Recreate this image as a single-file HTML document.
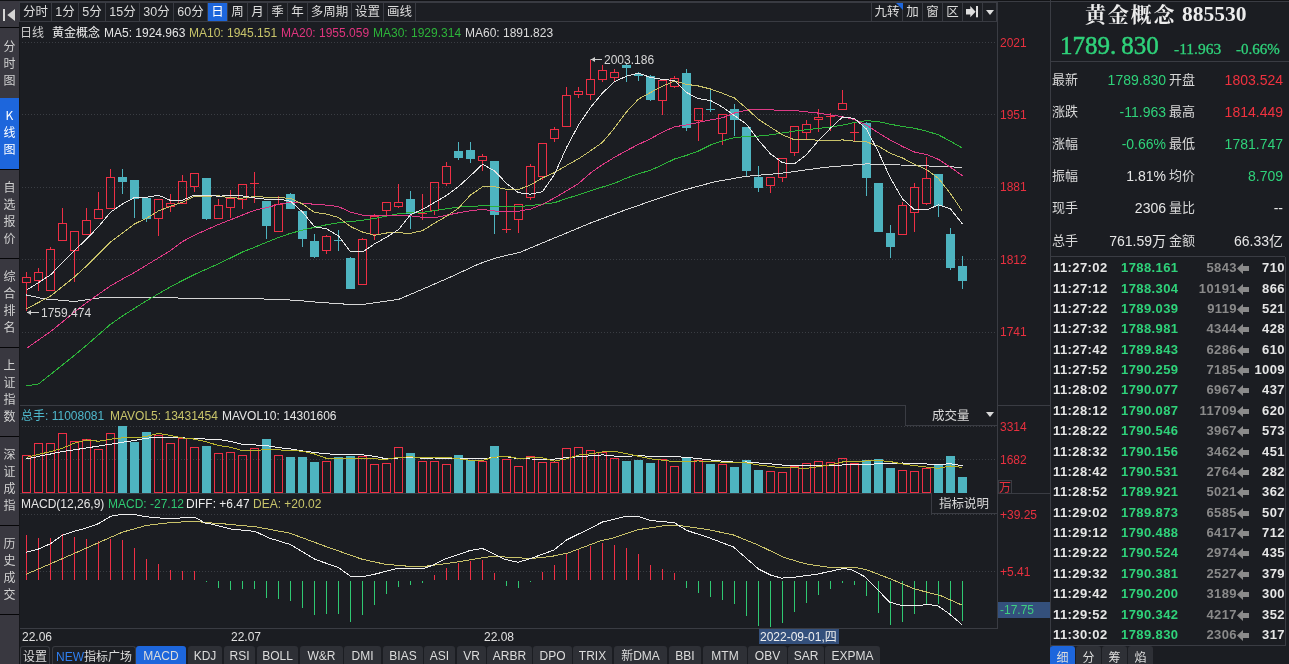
<!DOCTYPE html>
<html><head><meta charset="utf-8">
<style>
*{margin:0;padding:0;box-sizing:border-box}
html,body{width:1289px;height:664px;overflow:hidden;background:#1b1d22}
body{position:relative;font-family:"Liberation Sans","Noto Sans CJK SC",sans-serif;font-size:12px;color:#d8d8d8}
.a{position:absolute;white-space:nowrap}
#side{position:absolute;left:0;top:0;width:19px;height:664px;background:#393840}
.sb{position:absolute;left:0;width:19px;color:#d0d0d0;font-size:12px;line-height:17px;text-align:center;font-family:"Noto Sans CJK SC",sans-serif}
.sep{position:absolute;left:0;width:19px;height:1px;background:#060608}
#tb{position:absolute;left:19px;top:1px;width:979px;height:21px;background:#393b42}
.btn{position:absolute;top:3px;height:18px;background:#1c1e23;color:#dcdcdc;font-size:12.5px;line-height:18px;text-align:center;font-family:"Liberation Sans","Noto Sans CJK SC",sans-serif}
.btn.on{background:#1d66dc;color:#fff}
.hdr{font-size:12px;line-height:14px}
.ax{position:absolute;font-size:12px;line-height:14px;color:#e8303f;font-family:"Liberation Sans",sans-serif}
#rp{position:absolute;left:1050px;top:0;width:239px;height:664px}
.lbl{position:absolute;font-size:13px;line-height:16px;color:#d8d8d8;font-family:"Liberation Sans","Noto Sans CJK SC",sans-serif}
.val{position:absolute;font-size:14px;line-height:16px;text-align:right;font-family:"Liberation Sans","Noto Sans CJK SC",sans-serif}
.tk{position:absolute;left:0;width:239px;height:20px;font-family:"Liberation Sans",sans-serif;font-weight:bold;font-size:13px;line-height:20px;letter-spacing:0.4px}
.tk span{position:absolute}
.g{color:#2fd27a}.r{color:#f0323f}.w{color:#e6e6e6}.gy{color:#8a8a8a}
.tab{position:absolute;top:646px;height:18px;background:#2e3036;color:#dcdcdc;font-size:12px;line-height:21px;text-align:center;border-radius:3px 3px 0 0}
</style></head><body>
<!-- left sidebar -->
<div id="side">
  <div class="a" style="left:0;top:0;width:19px;height:1px;background:#121316"></div>
  <svg class="a" style="left:0;top:0" width="19" height="27"><rect x="3" y="9" width="2" height="12" fill="#d4d4d4"/><path d="M7.3,15 L15,9 L15,21 Z" fill="#d4d4d4"/></svg>
  <div class="sep" style="top:27px;height:1px"></div>
  <div class="sb" style="top:36.8px;color:#d0d0d0">分<br>时<br>图</div>
<div class="a" style="left:0;top:98px;width:19px;height:71px;background:#1d66dc"></div>
<div class="sb" style="top:105.8px;color:#ffffff">K<br>线<br>图</div>
<div class="sb" style="top:178.3px;color:#d0d0d0">自<br>选<br>报<br>价</div>
<div class="sb" style="top:267.3px;color:#d0d0d0">综<br>合<br>排<br>名</div>
<div class="sb" style="top:356.3px;color:#d0d0d0">上<br>证<br>指<br>数</div>
<div class="sb" style="top:445.3px;color:#d0d0d0">深<br>证<br>成<br>指</div>
<div class="sb" style="top:534.3px;color:#d0d0d0">历<br>史<br>成<br>交</div>
<div class="sep" style="top:169px"></div>
<div class="sep" style="top:258px"></div>
<div class="sep" style="top:347px"></div>
<div class="sep" style="top:436px"></div>
<div class="sep" style="top:525px"></div>
<div class="sep" style="top:614px"></div>
</div>
<div class="a" style="left:19px;top:0;width:1px;height:664px;background:#15161a"></div>
<!-- top toolbar -->
<div class="a" style="left:0;top:0;width:1289px;height:1px;background:#121316"></div>
<div id="tb"></div>
<div class="btn" style="left:416px;width:455px"></div>
<div class="btn" style="left:20px;width:31px">分时</div>
<div class="btn" style="left:52px;width:26px">1分</div>
<div class="btn" style="left:79px;width:26px">5分</div>
<div class="btn" style="left:106px;width:33px">15分</div>
<div class="btn" style="left:140px;width:33px">30分</div>
<div class="btn" style="left:174px;width:33px">60分</div>
<div class="btn on" style="left:208px;width:19px">日</div>
<div class="btn" style="left:228px;width:19px">周</div>
<div class="btn" style="left:248px;width:19px">月</div>
<div class="btn" style="left:268px;width:19px">季</div>
<div class="btn" style="left:288px;width:19px">年</div>
<div class="btn" style="left:308px;width:43px">多周期</div>
<div class="btn" style="left:352px;width:31px">设置</div>
<div class="btn" style="left:384px;width:31px">画线</div>
<div class="btn" style="left:872px;width:30px">九转</div>
<div class="btn" style="left:903px;width:19px">加</div>
<div class="btn" style="left:923px;width:19px">窗</div>
<div class="btn" style="left:943px;width:19px">区</div>
<div class="btn" style="left:963px;width:19px"><svg width="20" height="18" style="display:block"><path d="M3,6.1 H7.3 V3 L12.6,8.7 L7.3,14.3 V11.4 H3 Z" fill="#dedede"/><rect x="13" y="3" width="2" height="11.3" fill="#dedede"/></svg></div>
<div class="btn" style="left:983px;width:13px"><svg width="14" height="18" style="display:block"><path d="M3,7 h8 l-4,5 z" fill="#dedede"/></svg></div>
<svg class="a" style="left:896px;top:3px" width="7" height="7"><path d="M0,0 H7 V7 Z" fill="#1d66dc"/></svg>
<!-- chart svg -->
<svg class="a" style="left:0;top:0" width="1289" height="664" viewBox="0 0 1289 664">
<g shape-rendering="crispEdges">
<line x1="997.5" y1="22" x2="997.5" y2="629" stroke="#3a3c43"/>
<line x1="20" y1="405.5" x2="1050" y2="405.5" stroke="#3a3c43"/>
<line x1="20" y1="493.5" x2="1050" y2="493.5" stroke="#3a3c43"/>
<line x1="20" y1="628.5" x2="998" y2="628.5" stroke="#3a3c43"/>
<line x1="1050.5" y1="0" x2="1050.5" y2="664" stroke="#3a3c43"/>
</g>
<line x1="22" y1="42.5" x2="997" y2="42.5" stroke="#3a3d43" stroke-width="1" stroke-dasharray="1 2"/>
<line x1="22" y1="114.5" x2="997" y2="114.5" stroke="#3a3d43" stroke-width="1" stroke-dasharray="1 2"/>
<line x1="22" y1="187.5" x2="997" y2="187.5" stroke="#3a3d43" stroke-width="1" stroke-dasharray="1 2"/>
<line x1="22" y1="259.5" x2="997" y2="259.5" stroke="#3a3d43" stroke-width="1" stroke-dasharray="1 2"/>
<line x1="22" y1="332.5" x2="997" y2="332.5" stroke="#3a3d43" stroke-width="1" stroke-dasharray="1 2"/>
<line x1="22" y1="426.5" x2="997" y2="426.5" stroke="#3a3d43" stroke-width="1" stroke-dasharray="1 2"/>
<line x1="22" y1="459.5" x2="997" y2="459.5" stroke="#3a3d43" stroke-width="1" stroke-dasharray="1 2"/>
<line x1="22" y1="514.5" x2="997" y2="514.5" stroke="#3a3d43" stroke-width="1" stroke-dasharray="1 2"/>
<line x1="22" y1="571.5" x2="997" y2="571.5" stroke="#3a3d43" stroke-width="1" stroke-dasharray="1 2"/>
<line x1="26.5" y1="272" x2="26.5" y2="277" stroke="#ee2f45"/>
<line x1="26.5" y1="282" x2="26.5" y2="311" stroke="#ee2f45"/>
<rect x="22.5" y="277.5" width="8" height="5" fill="none" stroke="#ee2f45"/>
<line x1="38.5" y1="268" x2="38.5" y2="272" stroke="#ee2f45"/>
<line x1="38.5" y1="280" x2="38.5" y2="291" stroke="#ee2f45"/>
<rect x="34.5" y="272.5" width="8" height="8" fill="none" stroke="#ee2f45"/>
<line x1="50.5" y1="247" x2="50.5" y2="249" stroke="#ee2f45"/>
<line x1="50.5" y1="290" x2="50.5" y2="291" stroke="#ee2f45"/>
<rect x="46.5" y="249.5" width="8" height="41" fill="none" stroke="#ee2f45"/>
<line x1="62.5" y1="208" x2="62.5" y2="223" stroke="#ee2f45"/>
<rect x="58.5" y="223.5" width="8" height="17" fill="none" stroke="#ee2f45"/>
<line x1="74.5" y1="250" x2="74.5" y2="282" stroke="#ee2f45"/>
<rect x="70.5" y="231.5" width="8" height="19" fill="none" stroke="#ee2f45"/>
<line x1="86.5" y1="208" x2="86.5" y2="220" stroke="#ee2f45"/>
<rect x="82.5" y="220.5" width="8" height="14" fill="none" stroke="#ee2f45"/>
<line x1="98.5" y1="192" x2="98.5" y2="209" stroke="#ee2f45"/>
<rect x="94.5" y="209.5" width="8" height="9" fill="none" stroke="#ee2f45"/>
<line x1="110.5" y1="169" x2="110.5" y2="177" stroke="#ee2f45"/>
<rect x="106.5" y="177.5" width="8" height="31" fill="none" stroke="#ee2f45"/>
<line x1="122.5" y1="169" x2="122.5" y2="194" stroke="#4eb4c0"/>
<rect x="118" y="177" width="9" height="5" fill="#4eb4c0"/>
<line x1="134.5" y1="180" x2="134.5" y2="218" stroke="#4eb4c0"/>
<rect x="130" y="180" width="9" height="19" fill="#4eb4c0"/>
<line x1="146.5" y1="198" x2="146.5" y2="222" stroke="#4eb4c0"/>
<rect x="142" y="198" width="9" height="21" fill="#4eb4c0"/>
<line x1="158.5" y1="218" x2="158.5" y2="236" stroke="#ee2f45"/>
<rect x="154.5" y="199.5" width="8" height="19" fill="none" stroke="#ee2f45"/>
<line x1="170.5" y1="194" x2="170.5" y2="203" stroke="#ee2f45"/>
<line x1="170.5" y1="206" x2="170.5" y2="212" stroke="#ee2f45"/>
<rect x="166.5" y="203.5" width="8" height="3" fill="none" stroke="#ee2f45"/>
<line x1="182.5" y1="175" x2="182.5" y2="181" stroke="#ee2f45"/>
<rect x="178.5" y="181.5" width="8" height="22" fill="none" stroke="#ee2f45"/>
<line x1="194.5" y1="186" x2="194.5" y2="192" stroke="#ee2f45"/>
<rect x="190.5" y="173.5" width="8" height="13" fill="none" stroke="#ee2f45"/>
<line x1="206.5" y1="178" x2="206.5" y2="220" stroke="#4eb4c0"/>
<rect x="202" y="178" width="9" height="41" fill="#4eb4c0"/>
<line x1="218.5" y1="199" x2="218.5" y2="205" stroke="#ee2f45"/>
<rect x="214.5" y="205.5" width="8" height="13" fill="none" stroke="#ee2f45"/>
<line x1="230.5" y1="190" x2="230.5" y2="198" stroke="#ee2f45"/>
<line x1="230.5" y1="207" x2="230.5" y2="218" stroke="#ee2f45"/>
<rect x="226.5" y="198.5" width="8" height="9" fill="none" stroke="#ee2f45"/>
<line x1="242.5" y1="199" x2="242.5" y2="209" stroke="#ee2f45"/>
<rect x="238.5" y="184.5" width="8" height="15" fill="none" stroke="#ee2f45"/>
<line x1="254.5" y1="172" x2="254.5" y2="203" stroke="#ee2f45"/>
<rect x="250" y="183" width="9" height="1" fill="#ee2f45"/>
<line x1="266.5" y1="201" x2="266.5" y2="239" stroke="#4eb4c0"/>
<rect x="262" y="201" width="9" height="25" fill="#4eb4c0"/>
<line x1="278.5" y1="196" x2="278.5" y2="204" stroke="#ee2f45"/>
<line x1="278.5" y1="231" x2="278.5" y2="232" stroke="#ee2f45"/>
<rect x="274.5" y="204.5" width="8" height="27" fill="none" stroke="#ee2f45"/>
<line x1="290.5" y1="193" x2="290.5" y2="209" stroke="#4eb4c0"/>
<rect x="286" y="194" width="9" height="15" fill="#4eb4c0"/>
<line x1="302.5" y1="211" x2="302.5" y2="247" stroke="#4eb4c0"/>
<rect x="298" y="211" width="9" height="28" fill="#4eb4c0"/>
<line x1="314.5" y1="234" x2="314.5" y2="258" stroke="#4eb4c0"/>
<rect x="310" y="241" width="9" height="16" fill="#4eb4c0"/>
<line x1="326.5" y1="235" x2="326.5" y2="236" stroke="#ee2f45"/>
<line x1="326.5" y1="250" x2="326.5" y2="254" stroke="#ee2f45"/>
<rect x="322.5" y="236.5" width="8" height="14" fill="none" stroke="#ee2f45"/>
<line x1="338.5" y1="230" x2="338.5" y2="251" stroke="#4eb4c0"/>
<rect x="334" y="240" width="9" height="1" fill="#4eb4c0"/>
<line x1="350.5" y1="257" x2="350.5" y2="289" stroke="#4eb4c0"/>
<rect x="346" y="258" width="9" height="31" fill="#4eb4c0"/>
<line x1="362.5" y1="238" x2="362.5" y2="239" stroke="#ee2f45"/>
<rect x="358.5" y="239.5" width="8" height="45" fill="none" stroke="#ee2f45"/>
<line x1="374.5" y1="214" x2="374.5" y2="216" stroke="#ee2f45"/>
<line x1="374.5" y1="234" x2="374.5" y2="240" stroke="#ee2f45"/>
<rect x="370.5" y="216.5" width="8" height="18" fill="none" stroke="#ee2f45"/>
<line x1="386.5" y1="210" x2="386.5" y2="215" stroke="#ee2f45"/>
<rect x="382.5" y="202.5" width="8" height="8" fill="none" stroke="#ee2f45"/>
<line x1="398.5" y1="184" x2="398.5" y2="202" stroke="#ee2f45"/>
<line x1="398.5" y1="206" x2="398.5" y2="208" stroke="#ee2f45"/>
<rect x="394.5" y="202.5" width="8" height="4" fill="none" stroke="#ee2f45"/>
<line x1="410.5" y1="191" x2="410.5" y2="229" stroke="#4eb4c0"/>
<rect x="406" y="199" width="9" height="15" fill="#4eb4c0"/>
<line x1="422.5" y1="194" x2="422.5" y2="220" stroke="#ee2f45"/>
<rect x="418" y="213" width="9" height="1" fill="#ee2f45"/>
<line x1="434.5" y1="210" x2="434.5" y2="215" stroke="#ee2f45"/>
<rect x="430.5" y="182.5" width="8" height="28" fill="none" stroke="#ee2f45"/>
<line x1="446.5" y1="162" x2="446.5" y2="166" stroke="#ee2f45"/>
<line x1="446.5" y1="183" x2="446.5" y2="186" stroke="#ee2f45"/>
<rect x="442.5" y="166.5" width="8" height="17" fill="none" stroke="#ee2f45"/>
<line x1="458.5" y1="142" x2="458.5" y2="160" stroke="#4eb4c0"/>
<rect x="454" y="151" width="9" height="7" fill="#4eb4c0"/>
<line x1="470.5" y1="142" x2="470.5" y2="163" stroke="#4eb4c0"/>
<rect x="466" y="150" width="9" height="9" fill="#4eb4c0"/>
<line x1="482.5" y1="154" x2="482.5" y2="156" stroke="#ee2f45"/>
<line x1="482.5" y1="160" x2="482.5" y2="171" stroke="#ee2f45"/>
<rect x="478.5" y="156.5" width="8" height="4" fill="none" stroke="#ee2f45"/>
<line x1="494.5" y1="161" x2="494.5" y2="234" stroke="#4eb4c0"/>
<rect x="490" y="161" width="9" height="54" fill="#4eb4c0"/>
<line x1="506.5" y1="191" x2="506.5" y2="233" stroke="#ee2f45"/>
<rect x="502" y="229" width="9" height="1" fill="#ee2f45"/>
<line x1="518.5" y1="219" x2="518.5" y2="233" stroke="#ee2f45"/>
<rect x="514.5" y="204.5" width="8" height="15" fill="none" stroke="#ee2f45"/>
<line x1="530.5" y1="164" x2="530.5" y2="166" stroke="#ee2f45"/>
<line x1="530.5" y1="197" x2="530.5" y2="200" stroke="#ee2f45"/>
<rect x="526.5" y="166.5" width="8" height="31" fill="none" stroke="#ee2f45"/>
<line x1="542.5" y1="176" x2="542.5" y2="180" stroke="#ee2f45"/>
<rect x="538.5" y="143.5" width="8" height="33" fill="none" stroke="#ee2f45"/>
<line x1="554.5" y1="127" x2="554.5" y2="129" stroke="#ee2f45"/>
<line x1="554.5" y1="138" x2="554.5" y2="142" stroke="#ee2f45"/>
<rect x="550.5" y="129.5" width="8" height="9" fill="none" stroke="#ee2f45"/>
<line x1="566.5" y1="87" x2="566.5" y2="95" stroke="#ee2f45"/>
<rect x="562.5" y="95.5" width="8" height="31" fill="none" stroke="#ee2f45"/>
<line x1="578.5" y1="87" x2="578.5" y2="91" stroke="#ee2f45"/>
<line x1="578.5" y1="94" x2="578.5" y2="98" stroke="#ee2f45"/>
<rect x="574.5" y="91.5" width="8" height="3" fill="none" stroke="#ee2f45"/>
<line x1="590.5" y1="60" x2="590.5" y2="79" stroke="#ee2f45"/>
<line x1="590.5" y1="94" x2="590.5" y2="100" stroke="#ee2f45"/>
<rect x="586.5" y="79.5" width="8" height="15" fill="none" stroke="#ee2f45"/>
<line x1="602.5" y1="65" x2="602.5" y2="70" stroke="#ee2f45"/>
<line x1="602.5" y1="79" x2="602.5" y2="82" stroke="#ee2f45"/>
<rect x="598.5" y="70.5" width="8" height="9" fill="none" stroke="#ee2f45"/>
<line x1="614.5" y1="69" x2="614.5" y2="72" stroke="#ee2f45"/>
<line x1="614.5" y1="77" x2="614.5" y2="82" stroke="#ee2f45"/>
<rect x="610.5" y="72.5" width="8" height="5" fill="none" stroke="#ee2f45"/>
<line x1="626.5" y1="63" x2="626.5" y2="82" stroke="#4eb4c0"/>
<rect x="622" y="65" width="9" height="3" fill="#4eb4c0"/>
<line x1="638.5" y1="72" x2="638.5" y2="81" stroke="#4eb4c0"/>
<rect x="634" y="74" width="9" height="2" fill="#4eb4c0"/>
<line x1="650.5" y1="75" x2="650.5" y2="101" stroke="#4eb4c0"/>
<rect x="646" y="76" width="9" height="24" fill="#4eb4c0"/>
<line x1="662.5" y1="100" x2="662.5" y2="115" stroke="#ee2f45"/>
<rect x="658.5" y="80.5" width="8" height="20" fill="none" stroke="#ee2f45"/>
<line x1="674.5" y1="76" x2="674.5" y2="78" stroke="#ee2f45"/>
<line x1="674.5" y1="86" x2="674.5" y2="88" stroke="#ee2f45"/>
<rect x="670.5" y="78.5" width="8" height="8" fill="none" stroke="#ee2f45"/>
<line x1="686.5" y1="69" x2="686.5" y2="131" stroke="#4eb4c0"/>
<rect x="682" y="73" width="9" height="55" fill="#4eb4c0"/>
<line x1="698.5" y1="120" x2="698.5" y2="141" stroke="#ee2f45"/>
<rect x="694.5" y="108.5" width="8" height="12" fill="none" stroke="#ee2f45"/>
<line x1="710.5" y1="90" x2="710.5" y2="112" stroke="#4eb4c0"/>
<rect x="706" y="109" width="9" height="1" fill="#4eb4c0"/>
<line x1="722.5" y1="133" x2="722.5" y2="145" stroke="#ee2f45"/>
<rect x="718.5" y="114.5" width="8" height="19" fill="none" stroke="#ee2f45"/>
<line x1="734.5" y1="104" x2="734.5" y2="136" stroke="#4eb4c0"/>
<rect x="730" y="109" width="9" height="11" fill="#4eb4c0"/>
<line x1="746.5" y1="127" x2="746.5" y2="176" stroke="#4eb4c0"/>
<rect x="742" y="127" width="9" height="44" fill="#4eb4c0"/>
<line x1="758.5" y1="166" x2="758.5" y2="192" stroke="#4eb4c0"/>
<rect x="754" y="177" width="9" height="11" fill="#4eb4c0"/>
<line x1="770.5" y1="185" x2="770.5" y2="193" stroke="#ee2f45"/>
<rect x="766.5" y="177.5" width="8" height="8" fill="none" stroke="#ee2f45"/>
<line x1="782.5" y1="177" x2="782.5" y2="182" stroke="#ee2f45"/>
<rect x="778.5" y="158.5" width="8" height="19" fill="none" stroke="#ee2f45"/>
<line x1="794.5" y1="152" x2="794.5" y2="156" stroke="#ee2f45"/>
<rect x="790.5" y="126.5" width="8" height="26" fill="none" stroke="#ee2f45"/>
<line x1="806.5" y1="120" x2="806.5" y2="124" stroke="#ee2f45"/>
<line x1="806.5" y1="132" x2="806.5" y2="139" stroke="#ee2f45"/>
<rect x="802.5" y="124.5" width="8" height="8" fill="none" stroke="#ee2f45"/>
<line x1="818.5" y1="109" x2="818.5" y2="117" stroke="#ee2f45"/>
<line x1="818.5" y1="119" x2="818.5" y2="132" stroke="#ee2f45"/>
<rect x="814.5" y="117.5" width="8" height="2" fill="none" stroke="#ee2f45"/>
<line x1="830.5" y1="113" x2="830.5" y2="131" stroke="#ee2f45"/>
<rect x="826" y="116" width="9" height="1" fill="#ee2f45"/>
<line x1="842.5" y1="90" x2="842.5" y2="103" stroke="#ee2f45"/>
<rect x="838.5" y="103.5" width="8" height="6" fill="none" stroke="#ee2f45"/>
<line x1="854.5" y1="123" x2="854.5" y2="141" stroke="#ee2f45"/>
<rect x="850" y="132" width="9" height="1" fill="#ee2f45"/>
<line x1="866.5" y1="122" x2="866.5" y2="196" stroke="#4eb4c0"/>
<rect x="862" y="123" width="9" height="55" fill="#4eb4c0"/>
<line x1="878.5" y1="183" x2="878.5" y2="232" stroke="#4eb4c0"/>
<rect x="874" y="183" width="9" height="49" fill="#4eb4c0"/>
<line x1="890.5" y1="225" x2="890.5" y2="258" stroke="#4eb4c0"/>
<rect x="886" y="233" width="9" height="14" fill="#4eb4c0"/>
<line x1="902.5" y1="202" x2="902.5" y2="205" stroke="#ee2f45"/>
<line x1="902.5" y1="234" x2="902.5" y2="235" stroke="#ee2f45"/>
<rect x="898.5" y="205.5" width="8" height="29" fill="none" stroke="#ee2f45"/>
<line x1="914.5" y1="183" x2="914.5" y2="187" stroke="#ee2f45"/>
<line x1="914.5" y1="212" x2="914.5" y2="232" stroke="#ee2f45"/>
<rect x="910.5" y="187.5" width="8" height="25" fill="none" stroke="#ee2f45"/>
<line x1="926.5" y1="157" x2="926.5" y2="178" stroke="#ee2f45"/>
<line x1="926.5" y1="203" x2="926.5" y2="205" stroke="#ee2f45"/>
<rect x="922.5" y="178.5" width="8" height="25" fill="none" stroke="#ee2f45"/>
<line x1="938.5" y1="174" x2="938.5" y2="217" stroke="#4eb4c0"/>
<rect x="934" y="174" width="9" height="32" fill="#4eb4c0"/>
<line x1="950.5" y1="228" x2="950.5" y2="270" stroke="#4eb4c0"/>
<rect x="946" y="234" width="9" height="34" fill="#4eb4c0"/>
<line x1="962.5" y1="256" x2="962.5" y2="289" stroke="#4eb4c0"/>
<rect x="958" y="266" width="9" height="15" fill="#4eb4c0"/>
<polyline points="26.0,294.9 44.1,298.8 74.2,301.5 104.3,297.3 164.6,297.9 250.0,298.6 271.1,299.2 296.4,300.3 319.6,302.4 344.9,304.1 361.8,304.5 370.0,303.5 380.8,301.9 398.9,299.3 424.2,288.5 451.3,276.7 478.4,264.1 496.5,257.8 520.0,252.3 541.6,243.3 560.0,235.7 591.0,222.8 622.0,211.2 653.1,200.3 684.1,190.0 715.2,181.7 746.2,176.3 780.3,173.4 825.5,167.3 866.2,163.9 915.8,165.5 962.0,167.3" fill="none" stroke="#d6d6d6" stroke-width="1" shape-rendering="crispEdges"/>
<polyline points="26.5,385.8 38.5,384.0 50.5,374.5 62.5,364.9 74.5,355.3 86.5,345.3 98.5,334.8 110.5,324.3 122.5,316.0 134.5,308.3 146.5,300.7 158.5,293.8 170.5,286.8 182.5,280.5 194.5,274.5 206.5,269.1 218.5,263.8 230.5,258.0 242.5,252.0 254.5,247.3 266.5,242.3 278.5,237.5 290.5,233.3 302.5,230.2 314.5,227.3 326.5,224.8 338.5,222.8 350.5,221.6 362.5,220.2 374.5,218.6 386.5,216.1 398.5,213.8 410.5,212.6 422.5,212.3 434.5,210.6 446.5,208.8 458.5,207.1 470.5,206.5 482.5,205.7 494.5,206.2 506.5,206.5 518.5,206.7 530.5,205.5 542.5,204.2 554.5,202.7 566.5,198.6 578.5,194.8 590.5,190.8 602.5,187.0 614.5,183.3 626.5,178.1 638.5,173.8 650.5,170.2 662.5,164.9 674.5,159.0 686.5,155.4 698.5,151.0 710.5,145.0 722.5,140.8 734.5,137.6 746.5,136.5 758.5,136.1 770.5,134.8 782.5,133.0 794.5,131.1 806.5,129.7 818.5,128.4 830.5,126.9 842.5,125.2 854.5,122.4 866.5,120.7 878.5,121.6 890.5,124.3 902.5,126.4 914.5,128.3 926.5,131.1 938.5,134.9 950.5,141.2 962.5,148.2" fill="none" stroke="#2db43a" stroke-width="1" shape-rendering="crispEdges"/>
<polyline points="26.5,348.4 38.5,340.0 50.5,331.6 62.5,321.9 74.5,312.0 86.5,302.7 98.5,294.3 110.5,285.9 122.5,279.0 134.5,272.5 146.5,265.1 158.5,257.9 170.5,250.5 182.5,241.6 194.5,235.2 206.5,229.8 218.5,224.5 230.5,219.8 242.5,215.0 254.5,210.3 266.5,207.7 278.5,204.3 290.5,202.3 302.5,203.1 314.5,204.3 326.5,205.1 338.5,206.6 350.5,212.2 362.5,215.1 374.5,215.9 386.5,215.1 398.5,215.2 410.5,215.8 422.5,217.3 434.5,217.8 446.5,215.2 458.5,212.8 470.5,210.8 482.5,209.4 494.5,211.0 506.5,211.2 518.5,211.2 530.5,209.1 542.5,204.3 554.5,197.9 566.5,190.9 578.5,183.5 590.5,173.0 602.5,164.6 614.5,157.3 626.5,150.6 638.5,144.4 650.5,138.7 662.5,132.1 674.5,126.8 686.5,124.9 698.5,122.4 710.5,119.9 722.5,117.8 734.5,113.0 746.5,110.1 758.5,109.3 770.5,109.8 782.5,110.6 794.5,110.4 806.5,111.9 818.5,113.1 830.5,115.0 842.5,116.6 854.5,119.6 866.5,125.1 878.5,132.9 890.5,140.2 902.5,146.5 914.5,152.0 926.5,154.5 938.5,159.4 950.5,167.3 962.5,175.7" fill="none" stroke="#de3a86" stroke-width="1" shape-rendering="crispEdges"/>
<polyline points="26.5,308.7 38.5,302.5 50.5,296.1 62.5,286.5 74.5,276.9 86.5,266.0 98.5,254.1 110.5,242.1 122.5,233.0 134.5,224.0 146.5,218.2 158.5,210.9 170.5,206.3 182.5,202.1 194.5,196.3 206.5,196.2 218.5,195.8 230.5,197.9 242.5,198.1 254.5,196.5 266.5,197.2 278.5,197.7 290.5,198.3 302.5,204.0 314.5,212.4 326.5,214.1 338.5,217.5 350.5,226.6 362.5,232.0 374.5,235.3 386.5,233.0 398.5,232.8 410.5,233.3 422.5,230.7 434.5,223.2 446.5,216.3 458.5,208.1 470.5,195.1 482.5,186.8 494.5,186.7 506.5,189.4 518.5,189.6 530.5,184.9 542.5,177.9 554.5,172.6 566.5,165.5 578.5,158.8 590.5,150.8 602.5,142.3 614.5,128.0 626.5,111.9 638.5,99.1 650.5,92.5 662.5,86.2 674.5,81.1 686.5,84.3 698.5,86.0 710.5,89.0 722.5,93.3 734.5,98.0 746.5,108.3 758.5,119.4 770.5,127.2 782.5,134.9 794.5,139.8 806.5,139.4 818.5,140.3 830.5,141.0 842.5,139.9 854.5,141.2 866.5,141.9 878.5,146.3 890.5,153.3 902.5,158.0 914.5,164.2 926.5,169.5 938.5,178.5 950.5,193.6 962.5,211.5" fill="none" stroke="#c9c26a" stroke-width="1" shape-rendering="crispEdges"/>
<polyline points="26.5,290.1 38.5,282.6 50.5,274.9 62.5,262.6 74.5,250.5 86.5,239.1 98.5,226.6 110.5,212.2 122.5,204.0 134.5,197.5 146.5,197.3 158.5,195.2 170.5,200.4 182.5,200.2 194.5,195.1 206.5,195.1 218.5,196.3 230.5,195.4 242.5,196.0 254.5,198.0 266.5,199.3 278.5,199.1 290.5,201.2 302.5,212.0 314.5,226.7 326.5,228.8 338.5,235.9 350.5,251.9 362.5,252.0 374.5,243.9 386.5,237.2 398.5,229.6 410.5,214.6 422.5,209.4 434.5,202.5 446.5,195.4 458.5,186.6 470.5,175.7 482.5,164.3 494.5,170.8 506.5,183.4 518.5,192.7 530.5,194.2 542.5,191.6 554.5,174.4 566.5,147.6 578.5,125.0 590.5,107.5 602.5,93.0 614.5,81.7 626.5,76.2 638.5,73.2 650.5,77.4 662.5,79.5 674.5,80.5 686.5,92.5 698.5,98.7 710.5,100.5 722.5,107.1 734.5,115.6 746.5,124.2 758.5,140.2 770.5,153.9 782.5,162.8 794.5,163.9 806.5,154.6 818.5,140.5 830.5,128.2 842.5,117.0 854.5,118.4 866.5,129.1 878.5,152.1 890.5,178.3 902.5,198.9 914.5,209.9 926.5,210.0 938.5,204.8 950.5,208.9 962.5,224.1" fill="none" stroke="#e6e6e6" stroke-width="1" shape-rendering="crispEdges"/>
<line x1="590.5" y1="59.5" x2="602" y2="59.5" stroke="#cfcfcf"/>
<path d="M591,59.5 L595,57 L595,62 Z" fill="#cfcfcf"/>
<line x1="27" y1="312.5" x2="39" y2="312.5" stroke="#cfcfcf"/>
<path d="M27,312.5 L31,310 L31,315 Z" fill="#cfcfcf"/>
<rect x="22.5" y="455.5" width="8" height="37" fill="none" stroke="#ee2f45"/>
<rect x="34.5" y="443.5" width="8" height="49" fill="none" stroke="#ee2f45"/>
<rect x="46.5" y="443.5" width="8" height="49" fill="none" stroke="#ee2f45"/>
<rect x="58.5" y="433.5" width="8" height="59" fill="none" stroke="#ee2f45"/>
<rect x="70.5" y="441.5" width="8" height="51" fill="none" stroke="#ee2f45"/>
<rect x="82.5" y="439.5" width="8" height="53" fill="none" stroke="#ee2f45"/>
<rect x="94.5" y="449.5" width="8" height="43" fill="none" stroke="#ee2f45"/>
<rect x="106.5" y="433.5" width="8" height="59" fill="none" stroke="#ee2f45"/>
<rect x="118" y="426" width="9" height="67" fill="#4eb4c0"/>
<rect x="130" y="442" width="9" height="51" fill="#4eb4c0"/>
<rect x="142" y="432" width="9" height="61" fill="#4eb4c0"/>
<rect x="154.5" y="435.5" width="8" height="57" fill="none" stroke="#ee2f45"/>
<rect x="166.5" y="443.5" width="8" height="49" fill="none" stroke="#ee2f45"/>
<rect x="178.5" y="438.5" width="8" height="54" fill="none" stroke="#ee2f45"/>
<rect x="190.5" y="447.5" width="8" height="45" fill="none" stroke="#ee2f45"/>
<rect x="202" y="446" width="9" height="47" fill="#4eb4c0"/>
<rect x="214.5" y="453.5" width="8" height="39" fill="none" stroke="#ee2f45"/>
<rect x="226.5" y="452.5" width="8" height="40" fill="none" stroke="#ee2f45"/>
<rect x="238.5" y="455.5" width="8" height="37" fill="none" stroke="#ee2f45"/>
<rect x="250.5" y="448.5" width="8" height="44" fill="none" stroke="#ee2f45"/>
<rect x="262" y="439" width="9" height="54" fill="#4eb4c0"/>
<rect x="274.5" y="455.5" width="8" height="37" fill="none" stroke="#ee2f45"/>
<rect x="286" y="457" width="9" height="36" fill="#4eb4c0"/>
<rect x="298" y="457" width="9" height="36" fill="#4eb4c0"/>
<rect x="310" y="462" width="9" height="31" fill="#4eb4c0"/>
<rect x="322.5" y="461.5" width="8" height="31" fill="none" stroke="#ee2f45"/>
<rect x="334" y="457" width="9" height="36" fill="#4eb4c0"/>
<rect x="346" y="456" width="9" height="37" fill="#4eb4c0"/>
<rect x="358.5" y="456.5" width="8" height="36" fill="none" stroke="#ee2f45"/>
<rect x="370.5" y="464.5" width="8" height="28" fill="none" stroke="#ee2f45"/>
<rect x="382.5" y="463.5" width="8" height="29" fill="none" stroke="#ee2f45"/>
<rect x="394.5" y="447.5" width="8" height="45" fill="none" stroke="#ee2f45"/>
<rect x="406" y="453" width="9" height="40" fill="#4eb4c0"/>
<rect x="418.5" y="461.5" width="8" height="31" fill="none" stroke="#ee2f45"/>
<rect x="430.5" y="461.5" width="8" height="31" fill="none" stroke="#ee2f45"/>
<rect x="442.5" y="464.5" width="8" height="28" fill="none" stroke="#ee2f45"/>
<rect x="454" y="455" width="9" height="38" fill="#4eb4c0"/>
<rect x="466" y="460" width="9" height="33" fill="#4eb4c0"/>
<rect x="478.5" y="461.5" width="8" height="31" fill="none" stroke="#ee2f45"/>
<rect x="490" y="446" width="9" height="47" fill="#4eb4c0"/>
<rect x="502.5" y="459.5" width="8" height="33" fill="none" stroke="#ee2f45"/>
<rect x="514.5" y="466.5" width="8" height="26" fill="none" stroke="#ee2f45"/>
<rect x="526.5" y="456.5" width="8" height="36" fill="none" stroke="#ee2f45"/>
<rect x="538.5" y="462.5" width="8" height="30" fill="none" stroke="#ee2f45"/>
<rect x="550.5" y="462.5" width="8" height="30" fill="none" stroke="#ee2f45"/>
<rect x="562.5" y="448.5" width="8" height="44" fill="none" stroke="#ee2f45"/>
<rect x="574.5" y="447.5" width="8" height="45" fill="none" stroke="#ee2f45"/>
<rect x="586.5" y="450.5" width="8" height="42" fill="none" stroke="#ee2f45"/>
<rect x="598.5" y="452.5" width="8" height="40" fill="none" stroke="#ee2f45"/>
<rect x="610.5" y="458.5" width="8" height="34" fill="none" stroke="#ee2f45"/>
<rect x="622" y="461" width="9" height="32" fill="#4eb4c0"/>
<rect x="634" y="460" width="9" height="33" fill="#4eb4c0"/>
<rect x="646" y="463" width="9" height="30" fill="#4eb4c0"/>
<rect x="658.5" y="459.5" width="8" height="33" fill="none" stroke="#ee2f45"/>
<rect x="670.5" y="466.5" width="8" height="26" fill="none" stroke="#ee2f45"/>
<rect x="682" y="457" width="9" height="36" fill="#4eb4c0"/>
<rect x="694.5" y="460.5" width="8" height="32" fill="none" stroke="#ee2f45"/>
<rect x="706" y="464" width="9" height="29" fill="#4eb4c0"/>
<rect x="718.5" y="464.5" width="8" height="28" fill="none" stroke="#ee2f45"/>
<rect x="730" y="467" width="9" height="26" fill="#4eb4c0"/>
<rect x="742" y="460" width="9" height="33" fill="#4eb4c0"/>
<rect x="754" y="470" width="9" height="23" fill="#4eb4c0"/>
<rect x="766.5" y="471.5" width="8" height="21" fill="none" stroke="#ee2f45"/>
<rect x="778.5" y="472.5" width="8" height="20" fill="none" stroke="#ee2f45"/>
<rect x="790.5" y="466.5" width="8" height="26" fill="none" stroke="#ee2f45"/>
<rect x="802.5" y="463.5" width="8" height="29" fill="none" stroke="#ee2f45"/>
<rect x="814.5" y="461.5" width="8" height="31" fill="none" stroke="#ee2f45"/>
<rect x="826.5" y="462.5" width="8" height="30" fill="none" stroke="#ee2f45"/>
<rect x="838.5" y="458.5" width="8" height="34" fill="none" stroke="#ee2f45"/>
<rect x="850.5" y="463.5" width="8" height="29" fill="none" stroke="#ee2f45"/>
<rect x="862" y="460" width="9" height="33" fill="#4eb4c0"/>
<rect x="874" y="459" width="9" height="34" fill="#4eb4c0"/>
<rect x="886" y="468" width="9" height="25" fill="#4eb4c0"/>
<rect x="898.5" y="470.5" width="8" height="22" fill="none" stroke="#ee2f45"/>
<rect x="910.5" y="471.5" width="8" height="21" fill="none" stroke="#ee2f45"/>
<rect x="922.5" y="468.5" width="8" height="24" fill="none" stroke="#ee2f45"/>
<rect x="934" y="465" width="9" height="28" fill="#4eb4c0"/>
<rect x="946" y="456" width="9" height="37" fill="#4eb4c0"/>
<rect x="958" y="477" width="9" height="16" fill="#4eb4c0"/>
<polyline points="26.5,458.9 38.5,456.4 50.5,454.0 62.5,451.6 74.5,449.8 86.5,447.9 98.5,446.1 110.5,444.2 122.5,442.3 134.5,440.5 146.5,438.2 158.5,437.4 170.5,437.4 182.5,437.9 194.5,438.5 206.5,439.1 218.5,439.5 230.5,441.4 242.5,444.3 254.5,444.9 266.5,445.6 278.5,447.6 290.5,449.0 302.5,450.9 314.5,452.4 326.5,453.9 338.5,454.3 350.5,454.6 362.5,454.8 374.5,456.4 386.5,458.8 398.5,458.0 410.5,457.6 422.5,458.1 434.5,458.0 446.5,458.3 458.5,458.1 470.5,458.5 482.5,459.0 494.5,457.1 506.5,456.8 518.5,458.7 530.5,459.0 542.5,459.1 554.5,459.1 566.5,457.6 578.5,456.8 590.5,455.8 602.5,454.9 614.5,456.1 626.5,456.3 638.5,455.6 650.5,456.3 662.5,456.1 674.5,456.5 686.5,457.4 698.5,458.6 710.5,460.0 722.5,461.2 734.5,462.1 746.5,462.0 758.5,463.0 770.5,463.8 782.5,465.1 794.5,465.1 806.5,465.7 818.5,465.8 830.5,465.6 842.5,465.0 854.5,464.7 866.5,464.7 878.5,463.6 890.5,463.2 902.5,463.0 914.5,463.6 926.5,464.0 938.5,464.4 950.5,463.8 962.5,465.7" fill="none" stroke="#f0f0f0" stroke-width="1" shape-rendering="crispEdges"/>
<polyline points="26.5,457.3 38.5,454.4 50.5,451.6 62.5,448.2 74.5,443.1 86.5,440.0 98.5,441.2 110.5,439.2 122.5,437.8 134.5,437.9 146.5,436.4 158.5,433.5 170.5,435.5 182.5,438.0 194.5,439.1 206.5,441.9 218.5,445.5 230.5,447.3 242.5,450.6 254.5,450.7 266.5,449.4 278.5,449.8 290.5,450.8 302.5,451.1 314.5,454.0 326.5,458.4 338.5,458.7 350.5,458.5 362.5,458.4 374.5,458.9 386.5,459.3 398.5,457.3 410.5,456.8 422.5,457.7 434.5,457.1 446.5,457.3 458.5,458.8 470.5,460.3 482.5,460.3 494.5,457.2 506.5,456.2 518.5,458.5 530.5,457.7 542.5,457.9 554.5,461.1 566.5,458.9 578.5,455.1 590.5,453.9 602.5,451.9 614.5,451.2 626.5,453.7 638.5,456.2 650.5,458.8 662.5,460.2 674.5,461.8 686.5,461.1 698.5,461.0 710.5,461.2 722.5,462.2 734.5,462.4 746.5,462.9 758.5,465.0 770.5,466.5 782.5,468.0 794.5,467.8 806.5,468.4 818.5,466.6 830.5,464.8 842.5,462.0 854.5,461.6 866.5,460.9 878.5,460.5 890.5,461.6 902.5,464.0 914.5,465.6 926.5,467.1 938.5,468.4 950.5,466.0 962.5,467.4" fill="none" stroke="#b9b52e" stroke-width="1" shape-rendering="crispEdges"/>
<line x1="26.5" y1="535" x2="26.5" y2="580" stroke="#ee2f45"/>
<line x1="38.5" y1="538" x2="38.5" y2="580" stroke="#ee2f45"/>
<line x1="50.5" y1="538" x2="50.5" y2="580" stroke="#ee2f45"/>
<line x1="62.5" y1="534" x2="62.5" y2="580" stroke="#ee2f45"/>
<line x1="74.5" y1="537" x2="74.5" y2="580" stroke="#ee2f45"/>
<line x1="86.5" y1="539" x2="86.5" y2="580" stroke="#ee2f45"/>
<line x1="98.5" y1="541" x2="98.5" y2="580" stroke="#ee2f45"/>
<line x1="110.5" y1="539" x2="110.5" y2="580" stroke="#ee2f45"/>
<line x1="122.5" y1="540" x2="122.5" y2="580" stroke="#ee2f45"/>
<line x1="134.5" y1="548" x2="134.5" y2="580" stroke="#ee2f45"/>
<line x1="146.5" y1="559" x2="146.5" y2="580" stroke="#ee2f45"/>
<line x1="158.5" y1="564" x2="158.5" y2="580" stroke="#ee2f45"/>
<line x1="170.5" y1="570" x2="170.5" y2="580" stroke="#ee2f45"/>
<line x1="182.5" y1="571" x2="182.5" y2="580" stroke="#ee2f45"/>
<line x1="194.5" y1="571" x2="194.5" y2="580" stroke="#ee2f45"/>
<line x1="206.5" y1="581" x2="206.5" y2="582" stroke="#2fc872"/>
<line x1="218.5" y1="581" x2="218.5" y2="588" stroke="#2fc872"/>
<line x1="230.5" y1="581" x2="230.5" y2="590" stroke="#2fc872"/>
<line x1="242.5" y1="581" x2="242.5" y2="589" stroke="#2fc872"/>
<line x1="254.5" y1="581" x2="254.5" y2="589" stroke="#2fc872"/>
<line x1="266.5" y1="581" x2="266.5" y2="598" stroke="#2fc872"/>
<line x1="278.5" y1="581" x2="278.5" y2="599" stroke="#2fc872"/>
<line x1="290.5" y1="581" x2="290.5" y2="601" stroke="#2fc872"/>
<line x1="302.5" y1="581" x2="302.5" y2="608" stroke="#2fc872"/>
<line x1="314.5" y1="581" x2="314.5" y2="615" stroke="#2fc872"/>
<line x1="326.5" y1="581" x2="326.5" y2="614" stroke="#2fc872"/>
<line x1="338.5" y1="581" x2="338.5" y2="614" stroke="#2fc872"/>
<line x1="350.5" y1="581" x2="350.5" y2="622" stroke="#2fc872"/>
<line x1="362.5" y1="581" x2="362.5" y2="615" stroke="#2fc872"/>
<line x1="374.5" y1="581" x2="374.5" y2="605" stroke="#2fc872"/>
<line x1="386.5" y1="581" x2="386.5" y2="594" stroke="#2fc872"/>
<line x1="398.5" y1="581" x2="398.5" y2="587" stroke="#2fc872"/>
<line x1="410.5" y1="581" x2="410.5" y2="585" stroke="#2fc872"/>
<line x1="422.5" y1="581" x2="422.5" y2="583" stroke="#2fc872"/>
<line x1="434.5" y1="575" x2="434.5" y2="580" stroke="#ee2f45"/>
<line x1="446.5" y1="568" x2="446.5" y2="580" stroke="#ee2f45"/>
<line x1="458.5" y1="563" x2="458.5" y2="580" stroke="#ee2f45"/>
<line x1="470.5" y1="561" x2="470.5" y2="580" stroke="#ee2f45"/>
<line x1="482.5" y1="560" x2="482.5" y2="580" stroke="#ee2f45"/>
<line x1="494.5" y1="573" x2="494.5" y2="580" stroke="#ee2f45"/>
<line x1="506.5" y1="581" x2="506.5" y2="586" stroke="#2fc872"/>
<line x1="518.5" y1="581" x2="518.5" y2="588" stroke="#2fc872"/>
<line x1="530.5" y1="581" x2="530.5" y2="582" stroke="#2fc872"/>
<line x1="542.5" y1="572" x2="542.5" y2="580" stroke="#ee2f45"/>
<line x1="554.5" y1="565" x2="554.5" y2="580" stroke="#ee2f45"/>
<line x1="566.5" y1="553" x2="566.5" y2="580" stroke="#ee2f45"/>
<line x1="578.5" y1="550" x2="578.5" y2="580" stroke="#ee2f45"/>
<line x1="590.5" y1="546" x2="590.5" y2="580" stroke="#ee2f45"/>
<line x1="602.5" y1="543" x2="602.5" y2="580" stroke="#ee2f45"/>
<line x1="614.5" y1="545" x2="614.5" y2="580" stroke="#ee2f45"/>
<line x1="626.5" y1="548" x2="626.5" y2="580" stroke="#ee2f45"/>
<line x1="638.5" y1="554" x2="638.5" y2="580" stroke="#ee2f45"/>
<line x1="650.5" y1="565" x2="650.5" y2="580" stroke="#ee2f45"/>
<line x1="662.5" y1="569" x2="662.5" y2="580" stroke="#ee2f45"/>
<line x1="674.5" y1="573" x2="674.5" y2="580" stroke="#ee2f45"/>
<line x1="686.5" y1="581" x2="686.5" y2="588" stroke="#2fc872"/>
<line x1="698.5" y1="581" x2="698.5" y2="593" stroke="#2fc872"/>
<line x1="710.5" y1="581" x2="710.5" y2="597" stroke="#2fc872"/>
<line x1="722.5" y1="581" x2="722.5" y2="600" stroke="#2fc872"/>
<line x1="734.5" y1="581" x2="734.5" y2="604" stroke="#2fc872"/>
<line x1="746.5" y1="581" x2="746.5" y2="616" stroke="#2fc872"/>
<line x1="758.5" y1="581" x2="758.5" y2="626" stroke="#2fc872"/>
<line x1="770.5" y1="581" x2="770.5" y2="627" stroke="#2fc872"/>
<line x1="782.5" y1="581" x2="782.5" y2="623" stroke="#2fc872"/>
<line x1="794.5" y1="581" x2="794.5" y2="612" stroke="#2fc872"/>
<line x1="806.5" y1="581" x2="806.5" y2="603" stroke="#2fc872"/>
<line x1="818.5" y1="581" x2="818.5" y2="595" stroke="#2fc872"/>
<line x1="830.5" y1="581" x2="830.5" y2="589" stroke="#2fc872"/>
<line x1="842.5" y1="581" x2="842.5" y2="583" stroke="#2fc872"/>
<line x1="854.5" y1="581" x2="854.5" y2="585" stroke="#2fc872"/>
<line x1="866.5" y1="581" x2="866.5" y2="596" stroke="#2fc872"/>
<line x1="878.5" y1="581" x2="878.5" y2="613" stroke="#2fc872"/>
<line x1="890.5" y1="581" x2="890.5" y2="625" stroke="#2fc872"/>
<line x1="902.5" y1="581" x2="902.5" y2="622" stroke="#2fc872"/>
<line x1="914.5" y1="581" x2="914.5" y2="614" stroke="#2fc872"/>
<line x1="926.5" y1="581" x2="926.5" y2="605" stroke="#2fc872"/>
<line x1="938.5" y1="581" x2="938.5" y2="604" stroke="#2fc872"/>
<line x1="950.5" y1="581" x2="950.5" y2="614" stroke="#2fc872"/>
<line x1="962.5" y1="581" x2="962.5" y2="621" stroke="#2fc872"/>
<polyline points="26.0,574.3 50.5,563.8 74.8,553.2 98.4,542.7 122.6,532.1 146.5,525.4 169.6,522.7 194.9,521.2 206.5,522.7 218.0,523.3 256.4,526.9 290.0,533.2 325.9,546.5 361.7,559.1 384.9,564.2 410.0,566.4 425.3,566.3 452.7,562.7 484.3,557.4 494.8,556.4 511.7,557.4 530.7,558.5 551.7,556.4 568.6,552.8 600.0,541.0 611.1,538.5 638.5,529.6 663.8,525.8 678.5,525.4 708.0,529.6 733.3,534.9 758.6,545.2 783.9,557.4 805.3,563.8 830.6,567.6 855.9,567.6 866.5,569.7 889.7,578.6 915.0,589.1 940.3,595.5 961.8,605.0" fill="none" stroke="#c9c26a" stroke-width="1" shape-rendering="crispEdges"/>
<polyline points="26.0,552.2 38.5,549.0 50.5,543.7 62.2,535.3 74.8,531.1 86.4,528.0 98.4,523.7 110.6,516.3 122.6,514.2 134.9,514.7 146.5,516.8 158.0,517.8 169.6,518.9 182.3,517.8 194.9,517.4 206.5,523.7 210.0,523.7 231.0,529.0 255.3,531.5 269.0,538.0 290.0,544.4 315.4,559.5 338.6,567.6 350.1,576.0 361.7,576.8 374.4,574.3 397.6,568.4 424.2,568.4 433.7,564.8 446.4,558.5 469.5,550.7 482.2,548.4 494.8,554.3 505.4,559.5 518.0,562.3 530.7,558.5 553.8,550.1 566.5,540.0 590.0,528.4 602.6,522.0 623.7,516.8 639.5,516.8 651.1,520.6 674.3,522.7 686.9,530.5 708.0,537.4 733.3,546.9 758.6,569.0 771.2,575.4 781.8,578.1 792.7,577.5 818.0,574.0 843.3,568.5 851.7,569.7 864.4,576.5 877.0,589.1 889.7,602.2 902.3,605.6 919.2,605.6 927.6,604.3 938.2,606.0 948.7,613.4 961.8,624.4" fill="none" stroke="#eeeeee" stroke-width="1" shape-rendering="crispEdges"/>
</svg>
<div class="a hdr" style="left:20px;top:26px;color:#cfcfcf;font-size:12px;">日线</div>
<div class="a hdr" style="left:52px;top:26px;color:#f0f0f0;font-size:12px;">黄金概念</div>
<div class="a hdr" style="left:104px;top:26px;color:#e6e6e6;font-size:12px;">MA5: 1924.963</div>
<div class="a hdr" style="left:189px;top:26px;color:#c8c46a;font-size:12px;">MA10: 1945.151</div>
<div class="a hdr" style="left:281px;top:26px;color:#e0357f;font-size:12px;">MA20: 1955.059</div>
<div class="a hdr" style="left:373px;top:26px;color:#2db43a;font-size:12px;">MA30: 1929.314</div>
<div class="a hdr" style="left:465px;top:26px;color:#dcdcdc;font-size:12px;">MA60: 1891.823</div>
<div class="a hdr" style="left:604px;top:53px;color:#d8d8d8;font-size:12px;">2003.186</div>
<div class="a hdr" style="left:41px;top:306px;color:#d8d8d8;font-size:12px;">1759.474</div>
<div class="a hdr" style="left:21px;top:409px;color:#4fb8cc;font-size:12px;">总手: 11008081</div>
<div class="a hdr" style="left:110px;top:409px;color:#c8c46a;font-size:12px;">MAVOL5: 13431454</div>
<div class="a hdr" style="left:222px;top:409px;color:#e6e6e6;font-size:12px;">MAVOL10: 14301606</div>
<div class="a" style="left:905px;top:405px;width:93px;height:21px;border:1px solid #3a3c43;border-top:none;background:#1b1d22"></div>
<div class="a hdr" style="left:932px;top:409px;color:#d8d8d8;font-size:12.5px;">成交量</div>
<svg class="a" style="left:985px;top:411px" width="10" height="8"><path d="M1,1 h8 l-4,5 z" fill="#d8d8d8"/></svg>
<div class="a hdr" style="left:21px;top:497px;color:#e6e6e6;font-size:12px;">MACD(12,26,9)</div>
<div class="a hdr" style="left:108px;top:497px;color:#2fc872;font-size:12px;">MACD: -27.12</div>
<div class="a hdr" style="left:186px;top:497px;color:#eeeeee;font-size:12px;">DIFF: +6.47</div>
<div class="a hdr" style="left:253px;top:497px;color:#c8c46a;font-size:12px;">DEA: +20.02</div>
<div class="a" style="left:931px;top:493px;width:67px;height:21px;border:1px solid #3a3c43;border-top:none;background:#1b1d22"></div>
<div class="a hdr" style="left:939px;top:497px;color:#d8d8d8;font-size:12.5px;">指标说明</div>
<div class="ax" style="left:1000px;top:35.5px;color:#e8303f">2021</div>
<div class="ax" style="left:1000px;top:107.5px;color:#e8303f">1951</div>
<div class="ax" style="left:1000px;top:180px;color:#e8303f">1881</div>
<div class="ax" style="left:1000px;top:252.5px;color:#e8303f">1812</div>
<div class="ax" style="left:1000px;top:325px;color:#e8303f">1741</div>
<div class="ax" style="left:1000px;top:419.5px;color:#e8303f">3314</div>
<div class="ax" style="left:1000px;top:452.5px;color:#e8303f">1682</div>
<div class="ax" style="left:1000px;top:507.5px;color:#e8303f">+39.25</div>
<div class="ax" style="left:1000px;top:564.5px;color:#e8303f">+5.41</div>
<div class="a" style="left:998px;top:480px;width:14px;height:14px;border:1px solid #3a3c43;border-bottom:none"></div>
<div class="ax" style="left:999px;top:480px;font-family:'Noto Sans CJK SC',sans-serif">万</div>
<div class="a" style="left:998px;top:602px;width:52px;height:16px;background:#34507c"></div>
<div class="ax" style="left:1000px;top:603px;color:#3fcf80">-17.75</div>
<div class="a hdr" style="left:22px;top:630px;color:#e0e0e0;font-size:12px;">22.06</div>
<div class="a hdr" style="left:231px;top:630px;color:#e0e0e0;font-size:12px;">22.07</div>
<div class="a hdr" style="left:484px;top:630px;color:#e0e0e0;font-size:12px;">22.08</div>
<div class="a" style="left:759px;top:629px;width:80px;height:15px;background:#34507c"></div>
<div class="a hdr" style="left:760px;top:630px;color:#f0f0f0;font-size:12px;">2022-09-01,四</div>
<div class="tab" style="left:20px;width:30px;background:#1d1f24;border:1px solid #383a40;border-bottom:none;line-height:20px">设置</div>
<div class="tab" style="left:52px;width:84px;background:#1d1f24;border:1px solid #383a40;border-bottom:none;line-height:20px"><span style="color:#2f7ff0">NEW</span>指标广场</div>
<div class="tab" style="left:136px;width:50px;background:#1d66dc">MACD</div>
<div class="tab" style="left:188px;width:34px;background:#2e3036">KDJ</div>
<div class="tab" style="left:224px;width:31px;background:#2e3036">RSI</div>
<div class="tab" style="left:257px;width:41px;background:#2e3036">BOLL</div>
<div class="tab" style="left:300px;width:43px;background:#2e3036">W&amp;R</div>
<div class="tab" style="left:344px;width:37px;background:#2e3036">DMI</div>
<div class="tab" style="left:383px;width:40px;background:#2e3036">BIAS</div>
<div class="tab" style="left:424px;width:31px;background:#2e3036">ASI</div>
<div class="tab" style="left:457px;width:29px;background:#2e3036">VR</div>
<div class="tab" style="left:487px;width:45px;background:#2e3036">ARBR</div>
<div class="tab" style="left:533px;width:39px;background:#2e3036">DPO</div>
<div class="tab" style="left:573px;width:39px;background:#2e3036">TRIX</div>
<div class="tab" style="left:614px;width:53px;background:#2e3036">新DMA</div>
<div class="tab" style="left:669px;width:32px;background:#2e3036">BBI</div>
<div class="tab" style="left:703px;width:44px;background:#2e3036">MTM</div>
<div class="tab" style="left:748px;width:39px;background:#2e3036">OBV</div>
<div class="tab" style="left:788px;width:36px;background:#2e3036">SAR</div>
<div class="tab" style="left:825px;width:55px;background:#2e3036">EXPMA</div>
<div class="a" style="left:998px;top:1px;width:291px;height:1px;background:#3a3c43"></div>
<div class="a" style="left:1085px;top:2px;font-family:'Liberation Serif','Noto Serif CJK SC',serif;font-size:21px;line-height:26px;color:#ececec;font-weight:bold;letter-spacing:1.8px">黄金概念</div>
<div class="a" style="left:1182px;top:1px;font-family:'Liberation Serif',serif;font-size:21.5px;line-height:26px;color:#ececec;font-weight:bold">885530</div>
<div class="a" style="left:1060px;top:32px;font-family:'Liberation Serif',serif;font-size:25px;line-height:28px;color:#2fd27a;-webkit-text-stroke:0.5px #2fd27a">1789.<span style="margin-left:5px">830</span></div>
<div class="a" style="left:1174px;top:40px;font-family:'Liberation Serif',serif;font-size:15.5px;line-height:18px;color:#2fd27a;-webkit-text-stroke:0.3px #2fd27a">-11.963</div>
<div class="a" style="left:1236px;top:40px;font-family:'Liberation Serif',serif;font-size:15px;line-height:18px;color:#2fd27a;-webkit-text-stroke:0.3px #2fd27a">-0.66%</div>
<div class="a" style="left:1051px;top:61px;width:238px;height:1px;background:#3a3c43"></div>
<div class="lbl" style="left:1052px;top:71.5px">最新</div>
<div class="val g" style="left:1080px;width:86px;top:71.5px">1789.830</div>
<div class="lbl" style="left:1169px;top:71.5px">开盘</div>
<div class="val r" style="left:1197px;width:86px;top:71.5px">1803.524</div>
<div class="lbl" style="left:1052px;top:103.7px">涨跌</div>
<div class="val g" style="left:1080px;width:86px;top:103.7px">-11.963</div>
<div class="lbl" style="left:1169px;top:103.7px">最高</div>
<div class="val r" style="left:1197px;width:86px;top:103.7px">1814.449</div>
<div class="lbl" style="left:1052px;top:135.9px">涨幅</div>
<div class="val g" style="left:1080px;width:86px;top:135.9px">-0.66%</div>
<div class="lbl" style="left:1169px;top:135.9px">最低</div>
<div class="val g" style="left:1197px;width:86px;top:135.9px">1781.747</div>
<div class="lbl" style="left:1052px;top:168.1px">振幅</div>
<div class="val w" style="left:1080px;width:86px;top:168.1px">1.81%</div>
<div class="lbl" style="left:1169px;top:168.1px">均价</div>
<div class="val g" style="left:1197px;width:86px;top:168.1px">8.709</div>
<div class="lbl" style="left:1052px;top:200.3px">现手</div>
<div class="val w" style="left:1080px;width:86px;top:200.3px">2306</div>
<div class="lbl" style="left:1169px;top:200.3px">量比</div>
<div class="val w" style="left:1197px;width:86px;top:200.3px">--</div>
<div class="lbl" style="left:1052px;top:232.5px">总手</div>
<div class="val w" style="left:1080px;width:86px;top:232.5px">761.59万</div>
<div class="lbl" style="left:1169px;top:232.5px">金额</div>
<div class="val w" style="left:1197px;width:86px;top:232.5px">66.33亿</div>
<div class="a" style="left:1051px;top:256px;width:234px;height:1px;background:#3a3c43"></div>
<div class="tk" style="left:1050px;top:258.2px"><span class="w" style="left:3px">11:27:02</span><span class="g" style="left:71px">1788.161</span><span class="gy" style="right:52px">5843</span><svg class="a" style="left:187px;top:5px" width="13" height="11"><path d="M0,5.5 L6,0 V3 H12 V8 H6 V11 Z" fill="#8a8a8a"/></svg><span class="w" style="right:4px">710</span></div>
<div class="tk" style="left:1050px;top:278.6px"><span class="w" style="left:3px">11:27:12</span><span class="g" style="left:71px">1788.304</span><span class="gy" style="right:52px">10191</span><svg class="a" style="left:187px;top:5px" width="13" height="11"><path d="M0,5.5 L6,0 V3 H12 V8 H6 V11 Z" fill="#8a8a8a"/></svg><span class="w" style="right:4px">866</span></div>
<div class="tk" style="left:1050px;top:298.9px"><span class="w" style="left:3px">11:27:22</span><span class="g" style="left:71px">1789.039</span><span class="gy" style="right:52px">9119</span><svg class="a" style="left:187px;top:5px" width="13" height="11"><path d="M0,5.5 L6,0 V3 H12 V8 H6 V11 Z" fill="#8a8a8a"/></svg><span class="w" style="right:4px">521</span></div>
<div class="tk" style="left:1050px;top:319.3px"><span class="w" style="left:3px">11:27:32</span><span class="g" style="left:71px">1788.981</span><span class="gy" style="right:52px">4344</span><svg class="a" style="left:187px;top:5px" width="13" height="11"><path d="M0,5.5 L6,0 V3 H12 V8 H6 V11 Z" fill="#8a8a8a"/></svg><span class="w" style="right:4px">428</span></div>
<div class="tk" style="left:1050px;top:339.7px"><span class="w" style="left:3px">11:27:42</span><span class="g" style="left:71px">1789.843</span><span class="gy" style="right:52px">6286</span><svg class="a" style="left:187px;top:5px" width="13" height="11"><path d="M0,5.5 L6,0 V3 H12 V8 H6 V11 Z" fill="#8a8a8a"/></svg><span class="w" style="right:4px">610</span></div>
<div class="tk" style="left:1050px;top:360.1px"><span class="w" style="left:3px">11:27:52</span><span class="g" style="left:71px">1790.259</span><span class="gy" style="right:52px">7185</span><svg class="a" style="left:187px;top:5px" width="13" height="11"><path d="M0,5.5 L6,0 V3 H12 V8 H6 V11 Z" fill="#8a8a8a"/></svg><span class="w" style="right:4px">1009</span></div>
<div class="tk" style="left:1050px;top:380.4px"><span class="w" style="left:3px">11:28:02</span><span class="g" style="left:71px">1790.077</span><span class="gy" style="right:52px">6967</span><svg class="a" style="left:187px;top:5px" width="13" height="11"><path d="M0,5.5 L6,0 V3 H12 V8 H6 V11 Z" fill="#8a8a8a"/></svg><span class="w" style="right:4px">437</span></div>
<div class="tk" style="left:1050px;top:400.8px"><span class="w" style="left:3px">11:28:12</span><span class="g" style="left:71px">1790.087</span><span class="gy" style="right:52px">11709</span><svg class="a" style="left:187px;top:5px" width="13" height="11"><path d="M0,5.5 L6,0 V3 H12 V8 H6 V11 Z" fill="#8a8a8a"/></svg><span class="w" style="right:4px">620</span></div>
<div class="tk" style="left:1050px;top:421.2px"><span class="w" style="left:3px">11:28:22</span><span class="g" style="left:71px">1790.546</span><span class="gy" style="right:52px">3967</span><svg class="a" style="left:187px;top:5px" width="13" height="11"><path d="M0,5.5 L6,0 V3 H12 V8 H6 V11 Z" fill="#8a8a8a"/></svg><span class="w" style="right:4px">573</span></div>
<div class="tk" style="left:1050px;top:441.5px"><span class="w" style="left:3px">11:28:32</span><span class="g" style="left:71px">1790.156</span><span class="gy" style="right:52px">3462</span><svg class="a" style="left:187px;top:5px" width="13" height="11"><path d="M0,5.5 L6,0 V3 H12 V8 H6 V11 Z" fill="#8a8a8a"/></svg><span class="w" style="right:4px">451</span></div>
<div class="tk" style="left:1050px;top:461.9px"><span class="w" style="left:3px">11:28:42</span><span class="g" style="left:71px">1790.531</span><span class="gy" style="right:52px">2764</span><svg class="a" style="left:187px;top:5px" width="13" height="11"><path d="M0,5.5 L6,0 V3 H12 V8 H6 V11 Z" fill="#8a8a8a"/></svg><span class="w" style="right:4px">282</span></div>
<div class="tk" style="left:1050px;top:482.3px"><span class="w" style="left:3px">11:28:52</span><span class="g" style="left:71px">1789.921</span><span class="gy" style="right:52px">5021</span><svg class="a" style="left:187px;top:5px" width="13" height="11"><path d="M0,5.5 L6,0 V3 H12 V8 H6 V11 Z" fill="#8a8a8a"/></svg><span class="w" style="right:4px">362</span></div>
<div class="tk" style="left:1050px;top:502.6px"><span class="w" style="left:3px">11:29:02</span><span class="g" style="left:71px">1789.873</span><span class="gy" style="right:52px">6585</span><svg class="a" style="left:187px;top:5px" width="13" height="11"><path d="M0,5.5 L6,0 V3 H12 V8 H6 V11 Z" fill="#8a8a8a"/></svg><span class="w" style="right:4px">507</span></div>
<div class="tk" style="left:1050px;top:523.0px"><span class="w" style="left:3px">11:29:12</span><span class="g" style="left:71px">1790.488</span><span class="gy" style="right:52px">6417</span><svg class="a" style="left:187px;top:5px" width="13" height="11"><path d="M0,5.5 L6,0 V3 H12 V8 H6 V11 Z" fill="#8a8a8a"/></svg><span class="w" style="right:4px">712</span></div>
<div class="tk" style="left:1050px;top:543.4px"><span class="w" style="left:3px">11:29:22</span><span class="g" style="left:71px">1790.524</span><span class="gy" style="right:52px">2974</span><svg class="a" style="left:187px;top:5px" width="13" height="11"><path d="M0,5.5 L6,0 V3 H12 V8 H6 V11 Z" fill="#8a8a8a"/></svg><span class="w" style="right:4px">435</span></div>
<div class="tk" style="left:1050px;top:563.8px"><span class="w" style="left:3px">11:29:32</span><span class="g" style="left:71px">1790.381</span><span class="gy" style="right:52px">2527</span><svg class="a" style="left:187px;top:5px" width="13" height="11"><path d="M0,5.5 L6,0 V3 H12 V8 H6 V11 Z" fill="#8a8a8a"/></svg><span class="w" style="right:4px">379</span></div>
<div class="tk" style="left:1050px;top:584.1px"><span class="w" style="left:3px">11:29:42</span><span class="g" style="left:71px">1790.200</span><span class="gy" style="right:52px">3189</span><svg class="a" style="left:187px;top:5px" width="13" height="11"><path d="M0,5.5 L6,0 V3 H12 V8 H6 V11 Z" fill="#8a8a8a"/></svg><span class="w" style="right:4px">300</span></div>
<div class="tk" style="left:1050px;top:604.5px"><span class="w" style="left:3px">11:29:52</span><span class="g" style="left:71px">1790.342</span><span class="gy" style="right:52px">4217</span><svg class="a" style="left:187px;top:5px" width="13" height="11"><path d="M0,5.5 L6,0 V3 H12 V8 H6 V11 Z" fill="#8a8a8a"/></svg><span class="w" style="right:4px">352</span></div>
<div class="tk" style="left:1050px;top:624.9px"><span class="w" style="left:3px">11:30:02</span><span class="g" style="left:71px">1789.830</span><span class="gy" style="right:52px">2306</span><svg class="a" style="left:187px;top:5px" width="13" height="11"><path d="M0,5.5 L6,0 V3 H12 V8 H6 V11 Z" fill="#8a8a8a"/></svg><span class="w" style="right:4px">317</span></div>
<div class="a" style="left:1285px;top:257px;width:1px;height:389px;background:#3a3c43"></div>
<div class="a" style="left:1051px;top:645px;width:235px;height:1px;background:#3a3c43"></div>
<div class="tab" style="left:1050px;width:25px;background:#1d66dc;font-family:'Noto Sans CJK SC',sans-serif">细</div>
<div class="tab" style="left:1076px;width:25px;background:#2e3036;font-family:'Noto Sans CJK SC',sans-serif">分</div>
<div class="tab" style="left:1102px;width:25px;background:#2e3036;font-family:'Noto Sans CJK SC',sans-serif">筹</div>
<div class="tab" style="left:1128px;width:25px;background:#2e3036;font-family:'Noto Sans CJK SC',sans-serif">焰</div>
</body></html>
